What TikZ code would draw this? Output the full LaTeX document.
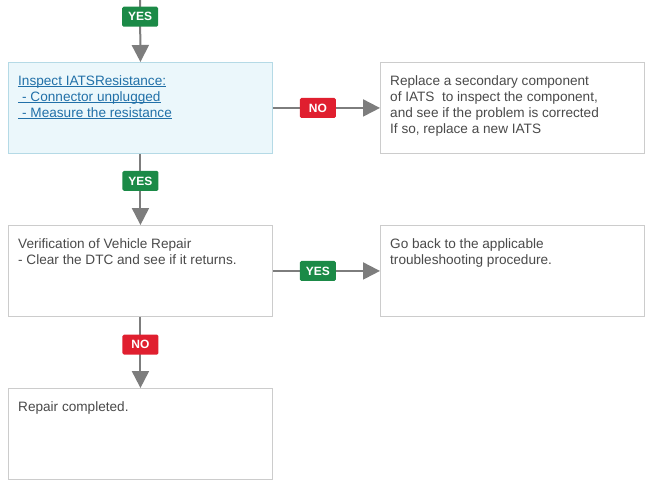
\documentclass[tikz,border=0pt]{standalone}
\usepackage{fontspec}
\setmainfont{Liberation Sans}
\usetikzlibrary{arrows.meta,calc}
\definecolor{txtgray}{HTML}{4A4A4A}
\definecolor{linkblue}{HTML}{2170A8}
\definecolor{boxline}{HTML}{CCCCCC}
\definecolor{blueline}{HTML}{B5DAE6}
\definecolor{bluefill}{HTML}{EBF7FB}
\definecolor{arrgray}{HTML}{7D7D7D}
\definecolor{yesgreen}{HTML}{1B8A47}
\definecolor{nored}{HTML}{E01F2F}
\newcommand{\lnkline}[1]{\setbox0\hbox{#1}\rlap{\rule[-1.8pt]{\wd0}{0.7pt}}\box0}
\tikzset{
  box/.style={draw=boxline, line width=0.9pt, fill=white, minimum width=264pt, minimum height=91pt, anchor=north west, inner sep=0pt},
  bluebox/.style={box, draw=blueline, fill=bluefill},
  txt/.style={anchor=north west, inner sep=0pt, align=left, text=txtgray, font=\fontsize{13.6}{16}\selectfont},
  linktxt/.style={txt, text=linkblue},
  arr/.style={draw=arrgray, line width=2pt, -{Triangle[width=17pt,length=17pt]}},
  tag/.style={rounded corners=1.5pt, minimum width=36pt, minimum height=20pt, inner sep=0pt, text=white, font=\bfseries\fontsize{12}{12}\selectfont},
  yes/.style={tag, fill=yesgreen},
  no/.style={tag, fill=nored}
}
\begin{document}
\begin{tikzpicture}[x=1pt,y=-1pt]
\useasboundingbox (0,0) rectangle (658,488);
\node[bluebox] (b1) at (8,62) {};
\node[box] (b2) at (380,62) {};
\node[box] (b3) at (8,225) {};
\node[box] (b4) at (380,225) {};
\node[box] (b5) at (8,388) {};
\coordinate (top) at (140,0);
\node[linktxt] (t1) at ($(b1.north west)+(10,13)$) {\lnkline{Inspect IATSResistance:}\\\lnkline{\hspace*{4pt}- Connector unplugged}\\\lnkline{\hspace*{4pt}- Measure the resistance}};
\node[txt] (t2) at ($(b2.north west)+(10,13)$) {Replace a secondary component\\of IATS\ \ to inspect the component,\\and see if the problem is corrected\\If so, replace a new IATS};
\node[txt] (t3) at ($(b3.north west)+(10,13)$) {Verification of Vehicle Repair\\- Clear the DTC and see if it returns.};
\node[txt] (t4) at ($(b4.north west)+(10,13)$) {Go back to the applicable\\troubleshooting procedure.};
\node[txt] (t5) at ($(b5.north west)+(10,13)$) {Repair completed.};
\draw[arr] (top) -- node[yes, pos=0.27] (l1) {YES} (b1.north);
\draw[arr] (b1.south) -- node[yes, pos=0.38] (l2) {YES} (b3.north);
\draw[arr] (b1.east) -- node[no, pos=0.42] (l3) {NO} (b2.west);
\draw[arr] (b3.east) -- node[yes, pos=0.42] (l4) {YES} (b4.west);
\draw[arr] (b3.south) -- node[no, pos=0.39] (l5) {NO} (b5.north);
\end{tikzpicture}
\end{document}
